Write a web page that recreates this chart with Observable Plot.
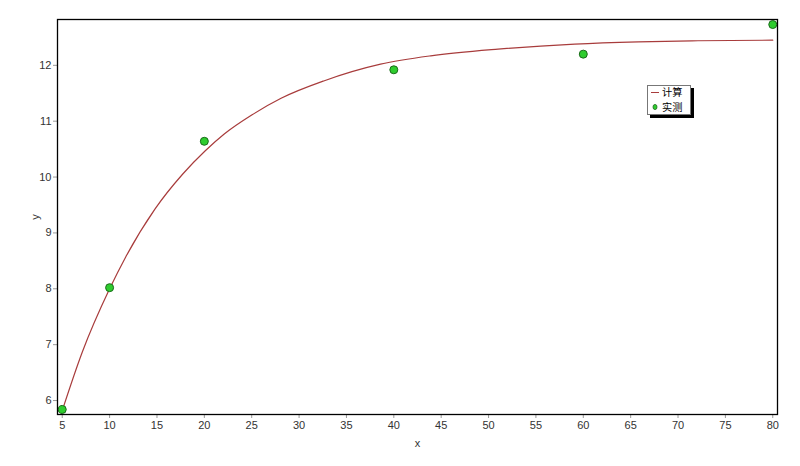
<!DOCTYPE html>
<html><head><meta charset="utf-8">
<script src="https://cdn.jsdelivr.net/npm/d3@7"></script>
<script src="https://cdn.jsdelivr.net/npm/@observablehq/plot@0.6"></script>
<style>
body{margin:0;background:#fff;}
#wrap{position:relative;width:800px;height:466px;font-family:"Liberation Sans",Arial,sans-serif;}
.legend{position:absolute;left:647px;top:85px;width:42px;height:28px;background:#fff;border:1px solid #777;box-shadow:3px 3px 0 #000;font-family:"Noto Sans CJK SC",sans-serif;font-size:10.2px;color:#000;}
.legend .row{position:absolute;left:3px;height:14px;line-height:14px;white-space:nowrap;display:flex;align-items:center;}
.legend .row svg{margin-right:3px;flex:none;}
</style></head><body><div id="wrap"></div><script>
const measuredX = [5, 10, 20, 40, 60, 80];
const measuredY = [5.84, 8.02, 10.64, 11.92, 12.2, 12.73];
const calcX = [5, 7.1, 10, 11.7, 14.8, 17.7, 20.1, 22.1, 25, 28.1, 32.6, 38.6, 43.9, 51, 59.1, 65.8, 72.1, 80];
const calcY = [5.82, 6.86, 8.0, 8.57, 9.43, 10.05, 10.47, 10.77, 11.11, 11.41, 11.72, 12.02, 12.17, 12.29, 12.38, 12.42, 12.44, 12.45];
const xTicks = [5, 10, 15, 20, 25, 30, 35, 40, 45, 50, 55, 60, 65, 70, 75, 80];
const yTicks = [6, 7, 8, 9, 10, 11, 12];
const legendLabels = ["计算", "实测"];

const measured = measuredX.map((x, i) => ({x, y: measuredY[i]}));
const calc = calcX.map((x, i) => ({x, y: calcY[i]}));

const chart = Plot.plot({
  width: 800,
  height: 466,
  marginLeft: 57,
  marginTop: 19,
  marginRight: 23,
  marginBottom: 52,
  style: {fontFamily: "Liberation Sans, Arial, sans-serif", fontSize: "11px", background: "#fff"},
  x: {domain: [4.5, 80.5]},
  y: {domain: [5.75, 12.82]},
  marks: [
    Plot.axisX({ticks: xTicks, tickFormat: d3.format("d"), tickSize: 4, stroke: "#999", fill: "#333", tickPadding: 3, label: "x", labelAnchor: "center", labelOffset: 32, labelArrow: "none"}),
    Plot.axisY({ticks: yTicks, tickFormat: d3.format("d"), tickSize: 4, stroke: "#999", fill: "#333", tickPadding: 2, label: "y", labelAnchor: "center", labelOffset: 26, labelArrow: "none"}),
    Plot.line(calc, {x: "x", y: "y", stroke: "#a83c3c", strokeWidth: 1.2, curve: "monotone-x"}),
    Plot.dot(measured, {x: "x", y: "y", r: 4, fill: "#2ecc2e", stroke: "#1a6b1a", strokeWidth: 1}),
    Plot.frame({stroke: "#000", strokeWidth: 1.3})
  ]
});
const wrap = document.getElementById("wrap");
wrap.appendChild(chart);
const lg = document.createElement("div");
lg.className = "legend";
lg.innerHTML =
  `<div class="row" style="top:-1px"><svg width="8" height="12"><line x1="0" y1="6.5" x2="8" y2="6.5" stroke="#a83c3c" stroke-width="1"/></svg><span>${legendLabels[0]}</span></div>` +
  `<div class="row" style="top:14px"><svg width="8" height="12"><ellipse cx="4" cy="6" rx="2" ry="2.6" fill="#2ecc2e" stroke="#1a6b1a" stroke-width="0.8"/></svg><span>${legendLabels[1]}</span></div>`;
wrap.appendChild(lg);
</script></body></html>
